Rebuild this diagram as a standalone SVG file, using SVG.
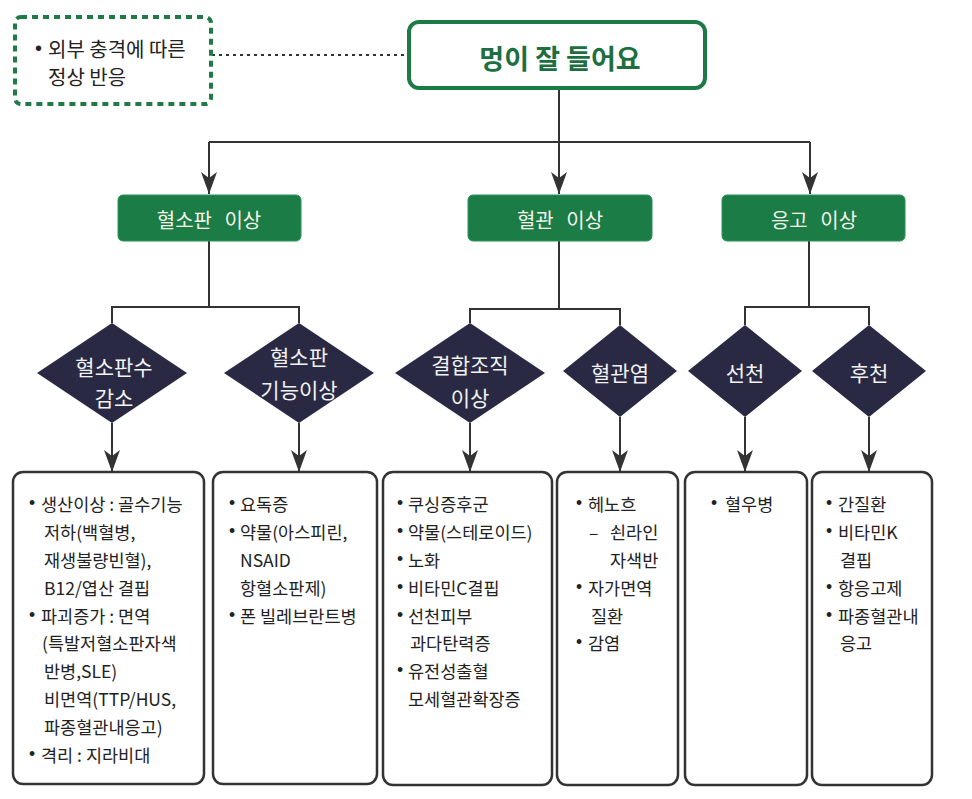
<svg xmlns="http://www.w3.org/2000/svg" width="972" height="799" viewBox="0 0 972 799">
<defs>
<style>
text{font-family:"Noto Sans CJK KR","Noto Sans",sans-serif;dominant-baseline:central}
.title{font-size:27px;font-weight:bold;fill:#1d6f3f;text-anchor:middle}
.note{font-size:20px;fill:#222}
.gbox{fill:#1b7c46;stroke:#2d9458;stroke-width:1}
.gtxt{font-size:20px;fill:#f5f5ea;text-anchor:middle;word-spacing:8px}
.dia{fill:#2a2944}
.dtxt{font-size:21px;fill:#f2f2f2;text-anchor:middle}
.box{fill:#fff;stroke:#333;stroke-width:2.5}
.btxt{font-size:17.5px;fill:#222}
.b{font-family:"Liberation Sans",sans-serif}
.ln{fill:none;stroke:#333;stroke-width:2}
.ar{fill:none;stroke:#333;stroke-width:2;marker-end:url(#ah)}
</style>
<marker id="ah" markerUnits="userSpaceOnUse" markerWidth="26" markerHeight="20" viewBox="-1 -10 26 20" refX="22" refY="0" orient="auto">
<path d="M0,-8 L22,0 L0,8 L6,0 Z" fill="#333"/>
</marker>
</defs>
<rect width="972" height="799" fill="#fff"/>

<g id="connectors">
<line x1="212" y1="55" x2="408" y2="55" stroke="#333" stroke-width="2" stroke-dasharray="3 4"/>
<line class="ln" x1="559" y1="88" x2="559" y2="142"/>
<polyline class="ln" points="209,142 810,142"/>
<line class="ar" x1="209" y1="142" x2="209" y2="194"/>
<line class="ar" x1="559" y1="142" x2="559" y2="194"/>
<line class="ar" x1="810" y1="142" x2="810" y2="194"/>
<polyline class="ln" points="209,241 209,307"/>
<polyline class="ln" points="112,323 112,307 299,307 299,323"/>
<polyline class="ln" points="559,241 559,309"/>
<polyline class="ln" points="470,323 470,309 620,309 620,325"/>
<polyline class="ln" points="809,241 809,307"/>
<polyline class="ln" points="745,325 745,307 869,307 869,325"/>
<line class="ar" x1="112" y1="423" x2="112" y2="472"/>
<line class="ar" x1="299" y1="423" x2="299" y2="472"/>
<line class="ar" x1="470" y1="423" x2="470" y2="472"/>
<line class="ar" x1="620" y1="417" x2="620" y2="472"/>
<line class="ar" x1="745" y1="417" x2="745" y2="472"/>
<line class="ar" x1="869" y1="417" x2="869" y2="472"/>
</g>

<g id="note">
<rect x="15" y="17" width="196" height="87" rx="6" fill="#fff" stroke="#1f7a45" stroke-width="4" stroke-dasharray="6 5"/>
<text class="note" y="48"><tspan class="b" x="35">•</tspan><tspan x="48">외부 충격에 따른</tspan></text>
<text class="note" x="48" y="76">정상 반응</text>
</g>

<g id="root">
<rect x="409" y="22" width="296" height="66" rx="10" fill="#fff" stroke="#1c7a45" stroke-width="4"/>
<text class="title" x="560" y="57">멍이 잘 들어요</text>
</g>

<g id="platelet">
<rect class="gbox" x="118" y="195" width="183" height="46" rx="5"/>
<text class="gtxt" x="209" y="219">혈소판 이상</text>
</g>
<g id="vessel">
<rect class="gbox" x="468" y="195" width="184" height="46" rx="5"/>
<text class="gtxt" x="560" y="219">혈관 이상</text>
</g>
<g id="coag">
<rect class="gbox" x="722" y="195" width="183" height="46" rx="5"/>
<text class="gtxt" x="814" y="219">응고 이상</text>
</g>

<g id="d1">
<polygon class="dia" points="112,323 187,373 112,423 37,373"/>
<text class="dtxt" x="114" y="366">혈소판수</text>
<text class="dtxt" x="114" y="397">감소</text>
</g>
<g id="d2">
<polygon class="dia" points="299,323 374,373 299,423 224,373"/>
<text class="dtxt" x="299" y="356">혈소판</text>
<text class="dtxt" x="299" y="389">기능이상</text>
</g>
<g id="d3">
<polygon class="dia" points="470,323 545,373 470,423 395,373"/>
<text class="dtxt" x="470" y="364">결합조직</text>
<text class="dtxt" x="470" y="397">이상</text>
</g>
<g id="d4">
<polygon class="dia" points="620,325 677,371 620,417 563,371"/>
<text class="dtxt" x="620" y="372">혈관염</text>
</g>
<g id="d5">
<polygon class="dia" points="745,325 802,371 745,417 688,371"/>
<text class="dtxt" x="745" y="372">선천</text>
</g>
<g id="d6">
<polygon class="dia" points="869,325 926,371 869,417 812,371"/>
<text class="dtxt" x="869" y="372">후천</text>
</g>

<g id="box1">
<rect class="box" x="13" y="472" width="191" height="312" rx="10"/>
<text class="btxt" y="503"><tspan class="b" x="29">•</tspan><tspan x="41">생산이상 : 골수기능</tspan></text>
<text class="btxt" x="44" y="531">저하(백혈병,</text>
<text class="btxt" x="44" y="559">재생불량빈혈),</text>
<text class="btxt" x="44" y="587">B12/엽산 결핍</text>
<text class="btxt" y="615"><tspan class="b" x="29">•</tspan><tspan x="41">파괴증가 : 면역</tspan></text>
<text class="btxt" x="42" y="642">(특발저혈소판자색</text>
<text class="btxt" x="44" y="670">반병,SLE)</text>
<text class="btxt" x="44" y="698">비면역(TTP/HUS,</text>
<text class="btxt" x="44" y="726">파종혈관내응고)</text>
<text class="btxt" y="754"><tspan class="b" x="29">•</tspan><tspan x="41">격리 : 지라비대</tspan></text>
</g>

<g id="box2">
<rect class="box" x="213" y="472" width="164" height="312" rx="10"/>
<text class="btxt" y="503"><tspan class="b" x="229">•</tspan><tspan x="240">요독증</tspan></text>
<text class="btxt" y="531"><tspan class="b" x="229">•</tspan><tspan x="240">약물(아스피린,</tspan></text>
<text class="btxt" x="240" y="559">NSAID</text>
<text class="btxt" x="240" y="587">항혈소판제)</text>
<text class="btxt" y="615"><tspan class="b" x="229">•</tspan><tspan x="240">폰 빌레브란트병</tspan></text>
</g>

<g id="box3">
<rect class="box" x="383" y="472" width="169" height="313" rx="10"/>
<text class="btxt" y="503"><tspan class="b" x="397">•</tspan><tspan x="408">쿠싱증후군</tspan></text>
<text class="btxt" y="531"><tspan class="b" x="397">•</tspan><tspan x="408">약물(스테로이드)</tspan></text>
<text class="btxt" y="559"><tspan class="b" x="397">•</tspan><tspan x="408">노화</tspan></text>
<text class="btxt" y="587"><tspan class="b" x="397">•</tspan><tspan x="408">비타민C결핍</tspan></text>
<text class="btxt" y="615"><tspan class="b" x="397">•</tspan><tspan x="408">선천피부</tspan></text>
<text class="btxt" x="410" y="642">과다탄력증</text>
<text class="btxt" y="670"><tspan class="b" x="397">•</tspan><tspan x="408">유전성출혈</tspan></text>
<text class="btxt" x="408" y="698">모세혈관확장증</text>
</g>

<g id="box4">
<rect class="box" x="557" y="472" width="121" height="313" rx="10"/>
<text class="btxt" y="503"><tspan class="b" x="576">•</tspan><tspan x="588">헤노흐</tspan></text>
<text class="btxt" y="531"><tspan x="589">–</tspan><tspan x="610">쇤라인</tspan></text>
<text class="btxt" x="610" y="559">자색반</text>
<text class="btxt" y="587"><tspan class="b" x="576">•</tspan><tspan x="588">자가면역</tspan></text>
<text class="btxt" x="591" y="615">질환</text>
<text class="btxt" y="642"><tspan class="b" x="576">•</tspan><tspan x="588">감염</tspan></text>
</g>

<g id="box5">
<rect class="box" x="685" y="472" width="122" height="313" rx="10"/>
<text class="btxt" y="503"><tspan class="b" x="711">•</tspan><tspan x="725">혈우병</tspan></text>
</g>

<g id="box6">
<rect class="box" x="812" y="472" width="120" height="313" rx="10"/>
<text class="btxt" y="503"><tspan class="b" x="826">•</tspan><tspan x="838">간질환</tspan></text>
<text class="btxt" y="531"><tspan class="b" x="826">•</tspan><tspan x="838">비타민K</tspan></text>
<text class="btxt" x="840" y="559">결핍</text>
<text class="btxt" y="587"><tspan class="b" x="826">•</tspan><tspan x="838">항응고제</tspan></text>
<text class="btxt" y="615"><tspan class="b" x="826">•</tspan><tspan x="838">파종혈관내</tspan></text>
<text class="btxt" x="840" y="642">응고</text>
</g>
</svg>
